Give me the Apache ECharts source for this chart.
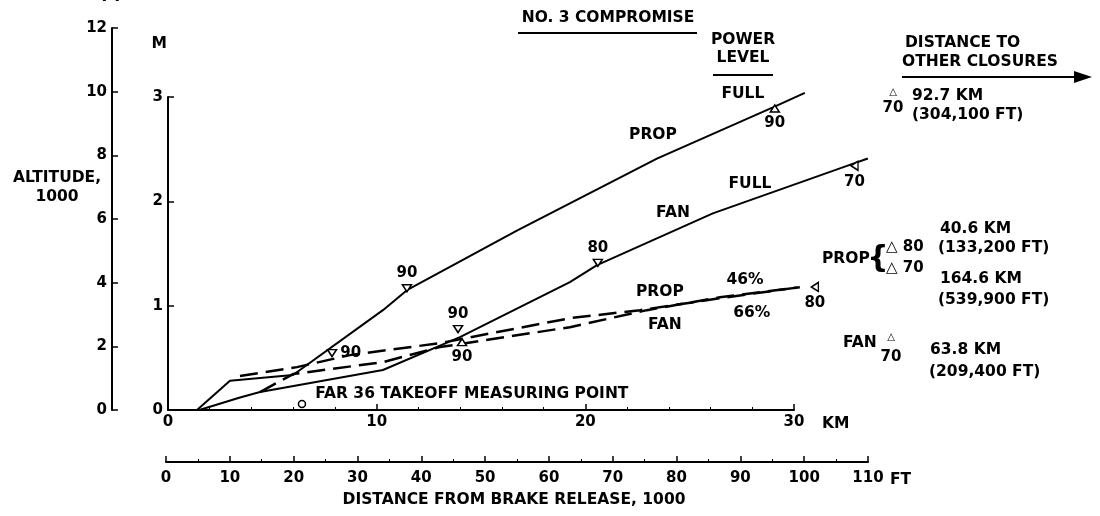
<!DOCTYPE html>
<html lang="en">
<head>
<meta charset="UTF-8">
<title>No. 3 compromise</title>
<script src="https://cdn.jsdelivr.net/npm/echarts@6/dist/echarts.min.js"></script>
<style>
    html, body { margin: 0; padding: 0; background: #fff; }
    #main { width: 1100px; height: 516px; }
</style>
</head>
<body>
<div id="main"></div>
<script>
    // distance from brake release (km), altitude (1000 m = M)
    var propFull = [[0, 0], [1.39, 0], [2.97, 0.28], [5.99, 0.335], [10.3, 0.957], [11.45, 1.148],
        [16.72, 1.72], [23.43, 2.41], [28.99, 2.9], [30.52, 3.04]];
    var fanFull = [[0, 0], [1.5, 0], [3.45, 0.12], [4.41, 0.172], [10.3, 0.383], [13.99, 0.699],
        [19.26, 1.225], [20.56, 1.388], [26.11, 1.885], [32.2, 2.316], [33.54, 2.41]];
    var prop46 = [[3.45, 0.325], [6.18, 0.411], [8.72, 0.526], [13.03, 0.641], [19.26, 0.88],
        [22.62, 0.957], [26.78, 1.081], [30.28, 1.177]];
    var fan66 = [[4.41, 0.172], [5.99, 0.344], [10.3, 0.459], [13.03, 0.603], [19.26, 0.794],
        [22.95, 0.957], [26.45, 1.081], [30.28, 1.177]];

    // power level marks: [km, M, level]
    var marksDown = [[11.45, 1.167, '90'], [13.9, 0.775, '90'], [20.6, 1.41, '80']];
    var marksUp = [[29.08, 2.89, '90'], [14.09, 0.65, '90']];
    var marksSide = [[7.86, 0.545, '90']];
    var marksEnd = [[32.9, 2.34, '70'], [31.0, 1.18, '80']];
    var farPoint = [[6.42, 0.057, 'FAR 36 TAKEOFF MEASURING POINT']];

    // curve names on the plot: [km, M, text]
    var notes = [[27.55, 3.03, 'FULL'], [23.24, 2.64, 'PROP'], [27.89, 2.17, 'FULL'], [24.2, 1.885, 'FAN'],
        [23.57, 1.13, 'PROP'], [23.81, 0.813, 'FAN'], [27.65, 1.244, '46%'], [27.98, 0.928, '66%']];

    var kmTicks = [0, 30, 10];      // min, max, interval
    var mTicks = [0, 3, 1];
    var ftTicks = [0, 12, 2];       // altitude 1000 ft
    var kftTicks = [0, 110, 10];    // distance 1000 ft
    var dataRange = [34, 3.2];      // plot area for the curves (km, M), wider than the drawn axes

    var FONT = 'DejaVu Sans';
    var ink = '#000';
    var numFont = {color: ink, fontFamily: FONT, fontSize: 15, fontWeight: 'bold', textBorderWidth: 0};
    var textFont = {color: ink, fontFamily: FONT, fontSize: 15.5, fontWeight: 'bold', textBorderWidth: 0};

    // main km / M grid
    var gx = 168, gy = 97, gw = 626, gh = 313;
    var pxKm = gw / (kmTicks[1] - kmTicks[0]), pxM = gh / (mTicks[1] - mTicks[0]);

    function mix(a, b) {
        var o = {};
        for (var k in a) o[k] = a[k];
        for (var k2 in b) o[k2] = b[k2];
        return o;
    }

    function ax(extra) {
        return mix({
            axisLine: {show: true, onZero: false, lineStyle: {color: ink, width: 2}},
            axisTick: {show: true, inside: true, length: 6, lineStyle: {color: ink, width: 1.5}},
            axisLabel: mix(numFont, {margin: 5}),
            splitLine: {show: false},
            nameTextStyle: textFont
        }, extra);
    }

    function txt(x, y, s, align, size) {
        return {
            type: 'text', x: x, y: y,
            style: {text: s, fill: ink, font: 'bold ' + (size || 15.5) + 'px "' + FONT + '"',
                align: align || 'left', verticalAlign: 'middle'}
        };
    }

    function seg(x1, y1, x2, y2, w) {
        return {type: 'line', shape: {x1: x1, y1: y1, x2: x2, y2: y2}, style: {stroke: ink, lineWidth: w || 2}};
    }

    function fmt(p) { return p.data[2]; }

    function marks(data, rotate, pos) {
        return {
            type: 'scatter', xAxisIndex: 3, yAxisIndex: 3, data: data, clip: false,
            symbol: 'triangle', symbolSize: [9, 7], symbolRotate: rotate,
            itemStyle: {color: '#fff', borderColor: ink, borderWidth: 1.5, opacity: 1},
            label: mix(numFont, {show: true, position: pos, distance: 3, formatter: fmt}), z: 5
        };
    }

    function curve(name, data, dashed) {
        return {
            type: 'line', name: name, xAxisIndex: 3, yAxisIndex: 3, data: data, symbol: 'none', clip: false,
            lineStyle: dashed ? {color: ink, width: 2.5, type: [18, 8]} : {color: ink, width: 2}
        };
    }

    function grid(left, top, width, height) {
        return {left: left, top: top, width: width, height: height, outerBoundsMode: 'none', containLabel: false};
    }

    var chart = echarts.init(document.getElementById('main'));
    var option = {
        animation: false,
        backgroundColor: '#fff',
        grid: [
            grid(gx, gy, gw, gh),                                        // km / M axes
            grid(166, 422, 702, 40),                                     // 1000 ft distance
            grid(112, 28, 2, 382),                                       // 1000 ft altitude
            grid(gx, gy + gh - dataRange[1] * pxM,                       // curves, same scale
                dataRange[0] * pxKm, dataRange[1] * pxM)
        ],
        xAxis: [
            ax({type: 'value', gridIndex: 0, min: kmTicks[0], max: kmTicks[1], interval: kmTicks[2],
                name: 'KM', nameLocation: 'end', nameGap: 28,
                nameTextStyle: mix(textFont, {verticalAlign: 'top', padding: [6, 0, 0, 0]}),
                minorTick: {show: true, splitNumber: 5, length: 3, lineStyle: {color: ink}}}),
            ax({type: 'value', gridIndex: 1, min: kftTicks[0], max: kftTicks[1], interval: kftTicks[2],
                name: 'FT', nameLocation: 'end', nameGap: 22,
                nameTextStyle: mix(textFont, {verticalAlign: 'top', padding: [10, 0, 0, 0]}),
                axisLabel: mix(numFont, {margin: 9}),
                minorTick: {show: true, splitNumber: 2, length: 3, lineStyle: {color: ink}}}),
            {type: 'value', gridIndex: 2, show: false, min: 0, max: 1},
            {type: 'value', gridIndex: 3, show: false, min: 0, max: dataRange[0]}
        ],
        yAxis: [
            ax({type: 'value', gridIndex: 0, min: mTicks[0], max: mTicks[1], interval: mTicks[2],
                name: 'M', nameLocation: 'end', nameGap: 45,
                nameTextStyle: mix(textFont, {align: 'right', padding: [0, 1, 0, 0]})}),
            {type: 'value', gridIndex: 1, show: false, min: 0, max: 1},
            ax({type: 'value', gridIndex: 2, min: ftTicks[0], max: ftTicks[1], interval: ftTicks[2],
                name: 'FT', nameLocation: 'end', nameGap: 23}),
            {type: 'value', gridIndex: 3, show: false, min: 0, max: dataRange[1]}
        ],
        graphic: [
            txt(608, 18, 'NO. 3 COMPROMISE', 'center'),
            seg(518, 33, 697, 33),
            txt(743, 40, 'POWER', 'center'),
            txt(743, 58, 'LEVEL', 'center'),
            seg(713, 75, 773, 75),
            txt(905, 43, 'DISTANCE TO', 'left'),
            txt(902, 62, 'OTHER CLOSURES', 'left'),
            seg(902, 77, 1076, 77),
            {type: 'polygon', shape: {points: [[1074, 71], [1092, 77], [1074, 83]]}, style: {fill: ink}},
            txt(893, 92, '\u25B3', 'center', 10),
            txt(893, 108, '70', 'center', 15),
            txt(912, 96, '92.7 KM', 'left'),
            txt(912, 115, '(304,100 FT)', 'left'),
            txt(822, 259, 'PROP', 'left'),
            txt(878, 259, '{', 'center', 30),
            txt(886, 247, '\u25B3 80', 'left', 15),
            txt(886, 268, '\u25B3 70', 'left', 15),
            txt(940, 229, '40.6 KM', 'left'),
            txt(938, 248, '(133,200 FT)', 'left'),
            txt(940, 279, '164.6 KM', 'left'),
            txt(938, 300, '(539,900 FT)', 'left'),
            txt(843, 343, 'FAN', 'left'),
            txt(891, 337, '\u25B3', 'center', 10),
            txt(891, 357, '70', 'center', 15),
            txt(930, 350, '63.8 KM', 'left'),
            txt(929, 372, '(209,400 FT)', 'left'),
            txt(57, 178, 'ALTITUDE,', 'center'),
            txt(57, 197, '1000', 'center'),
            txt(514, 500, 'DISTANCE FROM BRAKE RELEASE, 1000', 'center')
        ],
        series: [
            curve('PROP FULL', propFull, false),
            curve('FAN FULL', fanFull, false),
            curve('PROP 46%', prop46, true),
            curve('FAN 66%', fan66, true),
            marks(marksDown, 180, 'top'),
            marks(marksUp, 0, 'bottom'),
            marks(marksSide, 180, 'right'),
            marks(marksEnd, 90, 'bottom'),
            {type: 'scatter', xAxisIndex: 3, yAxisIndex: 3, data: farPoint, clip: false,
                symbol: 'circle', symbolSize: 7,
                itemStyle: {color: '#fff', borderColor: ink, borderWidth: 1.5, opacity: 1},
                label: mix(textFont, {show: true, position: 'right', offset: [4, -10], formatter: fmt})},
            {type: 'scatter', xAxisIndex: 3, yAxisIndex: 3, data: notes, clip: false, symbolSize: 0, z: 6,
                itemStyle: {opacity: 1},
                label: mix(textFont, {show: true, position: 'inside', formatter: fmt})}
        ]
    };
    chart.setOption(option);
</script>
</body>
</html>
